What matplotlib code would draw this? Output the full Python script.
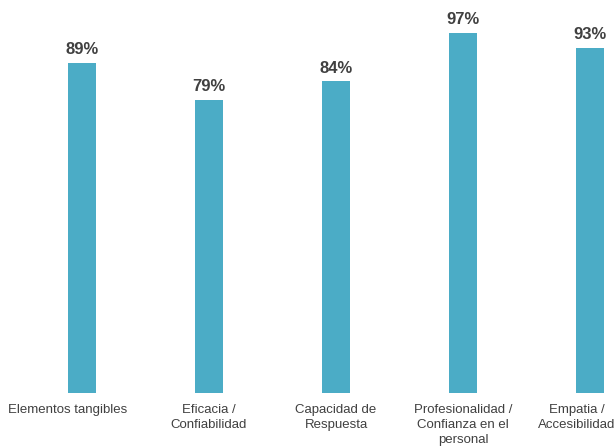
import matplotlib.pyplot as plt

categories = ["Elementos tangibles", "Eficacia /\nConfiabilidad", "Capacidad de\nRespuesta",
              "Profesionalidad /\nConfianza en el\npersonal", "Empatia /\nAccesibilidad"]
values = [89, 79, 84, 97, 93]
labels = ["89%", "79%", "84%", "97%", "93%"]

plt.rcParams["font.family"] = ["Liberation Sans", "DejaVu Sans"]

fig = plt.figure(figsize=(6.16, 4.46), dpi=100)
ax = fig.add_axes([0, 53 / 446, 1, 371.1 / 446])

x = list(range(len(values)))
bars = ax.bar(x, values, width=0.215, color="#4BACC6")

for xi, v, lab in zip(x, values, labels):
    ax.annotate(lab, (xi, v), xytext=(0, 4), textcoords="offset points",
                ha="center", va="bottom", fontsize=12, fontweight="bold", color="#404040")

# category labels below the bars; first one sits a bit left, last one hugs the right edge
for i, (xi, cat) in enumerate(zip(x, categories)):
    dx = 0
    if i == 0:
        dx = -10
    elif i == len(x) - 1:
        dx = -9.5
    ax.annotate(cat, (xi, 0), xycoords=("data", "axes fraction"),
                xytext=(dx, -8), textcoords="offset points",
                ha="center", va="top", fontsize=9.5, color="#404040", linespacing=1.3)

ax.set_xlim(-82 / 127, (616 - 82) / 127)
ax.set_ylim(0, 100)
ax.set_xticks([])
ax.set_yticks([])
for s in ax.spines.values():
    s.set_visible(False)

fig.savefig("out.png", dpi=100)
